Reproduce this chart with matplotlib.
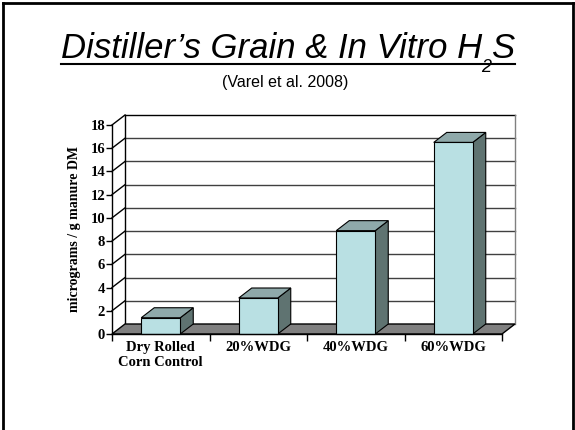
import matplotlib
matplotlib.use("Agg")
import matplotlib.pyplot as plt
from matplotlib.patches import Polygon, Rectangle
from matplotlib.lines import Line2D

# data
categories = ["Dry Rolled\nCorn Control", "20%WDG", "40%WDG", "60%WDG"]
h2s = [1.4, 3.1, 8.9, 16.5]
yticks = list(range(0, 19, 2))

plt.rcParams['font.family'] = ['Liberation Serif', 'DejaVu Serif']
plt.rcParams['font.weight'] = 'bold'

W, H = 575, 430
fig = plt.figure(figsize=(W / 100, H / 100), dpi=100)
fig.patch.set_facecolor('white')

ax = fig.add_axes([112 / W, 96 / H, 390 / W, 209 / H])
ax.set_xlim(0, len(categories))
ax.set_ylim(0, 18)
ax.set_facecolor('none')

# depth of the fake 3d box, in data units
DX = 13 / 97.5
DY = 10 / (209 / 18)
n = len(categories)
top = yticks[-1]

front = '#b9e0e3'
lid = '#8fa9aa'
side = '#5f7371'

# back wall and left wall grid
for y in yticks[1:]:
    col = 'black' if y == top else '#404040'
    ax.add_line(Line2D([DX, n + DX], [y + DY, y + DY], color=col, lw=1, clip_on=False, zorder=1))
    ax.add_line(Line2D([0, DX], [y, y + DY], color='black', lw=1, clip_on=False, zorder=1))
ax.add_line(Line2D([DX, DX], [DY, top + DY], color='black', lw=1, clip_on=False, zorder=1))
ax.add_line(Line2D([n + DX, n + DX], [DY, top + DY], color='#808080', lw=1, clip_on=False, zorder=1))

# floor
floor = Polygon([(0, 0), (n, 0), (n + DX, DY), (DX, DY)], closed=True,
                facecolor='#808080', edgecolor='black', lw=1, clip_on=False, zorder=2)
ax.add_patch(floor)

# bars
bw = 0.4
for i, v in enumerate(h2s):
    x0 = i + 0.5 - bw / 2
    x1 = x0 + bw
    ax.add_patch(Polygon([(x1, 0), (x1 + DX, DY), (x1 + DX, v + DY), (x1, v)], closed=True,
                         facecolor=side, edgecolor='black', lw=0.8, clip_on=False, zorder=3))
    ax.add_patch(Polygon([(x0, v), (x1, v), (x1 + DX, v + DY), (x0 + DX, v + DY)], closed=True,
                         facecolor=lid, edgecolor='black', lw=0.8, clip_on=False, zorder=3))
    ax.add_patch(Rectangle((x0, 0), bw, v, facecolor=front, edgecolor='black', lw=0.8,
                           clip_on=False, zorder=3))

for s in ['top', 'right']:
    ax.spines[s].set_visible(False)
for s in ['left', 'bottom']:
    ax.spines[s].set_linewidth(1)
    ax.spines[s].set_zorder(4)

ax.set_yticks(yticks)
ax.tick_params(axis='y', direction='out', length=4, width=1, labelsize=10.5, pad=1)
ax.set_xticks(range(n + 1))
ax.set_xticklabels([])
ax.set_xticks([i + 0.5 for i in range(n)], minor=True)
ax.set_xticklabels(categories, minor=True)
ax.tick_params(axis='x', which='major', direction='out', length=5, width=1)
ax.tick_params(axis='x', which='minor', length=0, labelsize=10.5, pad=5)

ax.set_ylabel("micrograms / g manure DM", fontsize=10, fontweight='bold')
ax.yaxis.set_label_coords((81 - 112) / 390, 0.5)

# slide title, built from pieces so the subscript can sit low
tkw = dict(family='Liberation Sans', style='italic', weight='normal', va='baseline', ha='left')
base = 1 - 58 / H
t1 = fig.text(0, base, "Distiller’s Grain & In Vitro H", fontsize=25, **tkw)
t2 = fig.text(0, base - 14 / H, "2", fontsize=13, **tkw)
t3 = fig.text(0, base, "S", fontsize=25, **tkw)
fig.canvas.draw()
r = fig.canvas.get_renderer()
w1 = t1.get_window_extent(r).width
w2 = t2.get_window_extent(r).width
w3 = t3.get_window_extent(r).width
x0 = 288 - (w1 + w2 + w3) / 2
t1.set_x(x0 / W)
t2.set_x((x0 + w1 - 1) / W)
t3.set_x((x0 + w1 + w2 - 1) / W)
uy = 1 - 64 / H
fig.add_artist(Line2D([x0 / W, (x0 + w1 + w2 + w3) / W], [uy, uy], color='black', lw=1.5))

fig.text(285 / W, 1 - 87 / H, "(Varel et al. 2008)", ha='center', va='baseline',
         fontsize=11.5, family='Liberation Sans', weight='normal')

# slide border (bottom edge is cut off)
bcol = 'black'
fig.add_artist(Line2D([3 / W, 3 / W], [0, 1 - 3 / H], color=bcol, lw=2))
fig.add_artist(Line2D([3 / W, 572.5 / W], [1 - 3 / H, 1 - 3 / H], color=bcol, lw=2))
fig.add_artist(Line2D([572.5 / W, 572.5 / W], [0, 1 - 3 / H], color=bcol, lw=2))

fig.savefig("out.png", dpi=100, facecolor='white')
